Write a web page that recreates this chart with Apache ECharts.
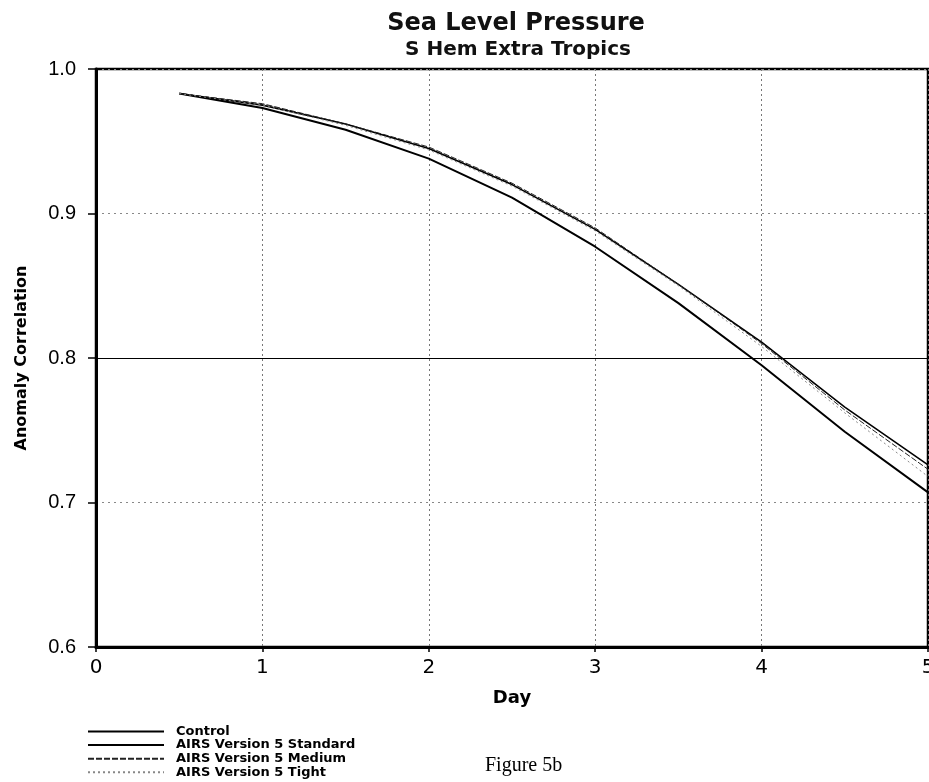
<!DOCTYPE html>
<html>
<head>
<meta charset="utf-8">
<script src="https://cdn.jsdelivr.net/npm/echarts@6/dist/echarts.min.js"></script>
<style>
  html, body { margin: 0; padding: 0; background: #fff; }
  #chart { width: 929px; height: 782px; }
</style>
</head>
<body>
<div id="chart"></div>
<script>
// Forecast day (x) and anomaly correlation per experiment
var days = [0.5, 1, 1.5, 2, 2.5, 3, 3.5, 4, 4.5, 5];
var control  = [0.983, 0.973, 0.958, 0.938, 0.911, 0.877, 0.838, 0.795, 0.749, 0.707];
var standard = [0.983, 0.975, 0.962, 0.945, 0.920, 0.889, 0.851, 0.811, 0.766, 0.726];
var medium   = [0.983, 0.976, 0.962, 0.946, 0.921, 0.890, 0.851, 0.810, 0.764, 0.723];
var tight    = [0.983, 0.975, 0.961, 0.944, 0.919, 0.888, 0.850, 0.808, 0.762, 0.718];
var seriesNames = ['Control', 'AIRS Version 5 Standard', 'AIRS Version 5 Medium', 'AIRS Version 5 Tight'];

function pairs(vals) {
  return days.map(function (d, i) { return [d, vals[i]]; });
}

var chart = echarts.init(document.getElementById('chart'));
var font = 'DejaVu Sans';

chart.setOption({
  backgroundColor: '#fff',
  animation: false,
  title: [
    { text: 'Sea Level Pressure', left: 511, top: 7, textAlign: 'center',
      textStyle: { fontFamily: font, fontSize: 24, fontWeight: 'bold', color: '#111' } },
    { text: 'S Hem Extra Tropics', left: 513, top: 35, textAlign: 'center',
      textStyle: { fontFamily: font, fontSize: 20, fontWeight: 'bold', color: '#111' } }
  ],
  grid: { left: 96, right: 1, top: 69, bottom: 135, outerBoundsMode: 'none', containLabel: false,
    show: true, borderColor: '#000', borderWidth: 2.5, backgroundColor: 'transparent' },
  legend: {
    orient: 'vertical', left: 87, top: 725, padding: 0,
    itemWidth: 76, itemHeight: 13, itemGap: 0.6,
    data: seriesNames,
    itemStyle: { opacity: 0 },
    textStyle: { fontFamily: font, fontSize: 13, fontWeight: 'bold', color: '#000', lineHeight: 13,
      padding: [0, 0, 0, 7] }
  },
  graphic: [
    { type: 'text', left: 485, top: 756,
      style: { text: 'Figure 5b', fontFamily: 'Liberation Serif', fontSize: 20, fill: '#000' } }
  ],
  xAxis: {
    type: 'value', min: 0, max: 5, interval: 1,
    name: 'Day', nameLocation: 'middle', nameGap: 42,
    nameTextStyle: { fontFamily: font, fontSize: 18, fontWeight: 'bold', color: '#000' },
    axisLine: { show: true, onZero: false, lineStyle: { color: '#000', width: 3 } },
    axisTick: { show: true, length: 5, lineStyle: { color: '#000', width: 1.5 } },
    axisLabel: { fontFamily: font, fontSize: 20, color: '#000', margin: 11 },
    splitLine: { show: true, lineStyle: { color: '#777', width: 1, type: [2, 3] } }
  },
  yAxis: {
    type: 'value', min: 0.6, max: 1.0, interval: 0.1,
    name: 'Anomaly Correlation', nameLocation: 'middle', nameGap: 66,
    nameTextStyle: { fontFamily: font, fontSize: 16, fontWeight: 'bold', color: '#000' },
    axisLine: { show: true, lineStyle: { color: '#000', width: 3 } },
    axisTick: { show: true, length: 8, lineStyle: { color: '#000', width: 1.5 } },
    axisLabel: { fontFamily: 'Liberation Sans', fontSize: 20, color: '#000', margin: 20,
      formatter: function (v) { return v.toFixed(1); } },
    splitLine: { show: true, lineStyle: { color: '#888', width: 1, type: [2, 4] } }
  },
  series: [
    { name: seriesNames[0], type: 'line', data: pairs(control), symbol: 'none',
      lineStyle: { color: '#000', width: 2 },
      markLine: { silent: true, symbol: 'none', label: { show: false },
        lineStyle: { color: '#000', width: 1, type: 'solid' }, data: [{ yAxis: 0.8 }] } },
    { name: seriesNames[1], type: 'line', data: pairs(standard), symbol: 'none',
      lineStyle: { color: '#000', width: 1.6 } },
    { name: seriesNames[2], type: 'line', data: pairs(medium), symbol: 'none',
      lineStyle: { color: '#222', width: 1, type: [6, 2] } },
    { name: seriesNames[3], type: 'line', data: pairs(tight), symbol: 'none',
      lineStyle: { color: '#888', width: 1, type: [2, 3] } }
  ]
});
</script>
</body>
</html>
